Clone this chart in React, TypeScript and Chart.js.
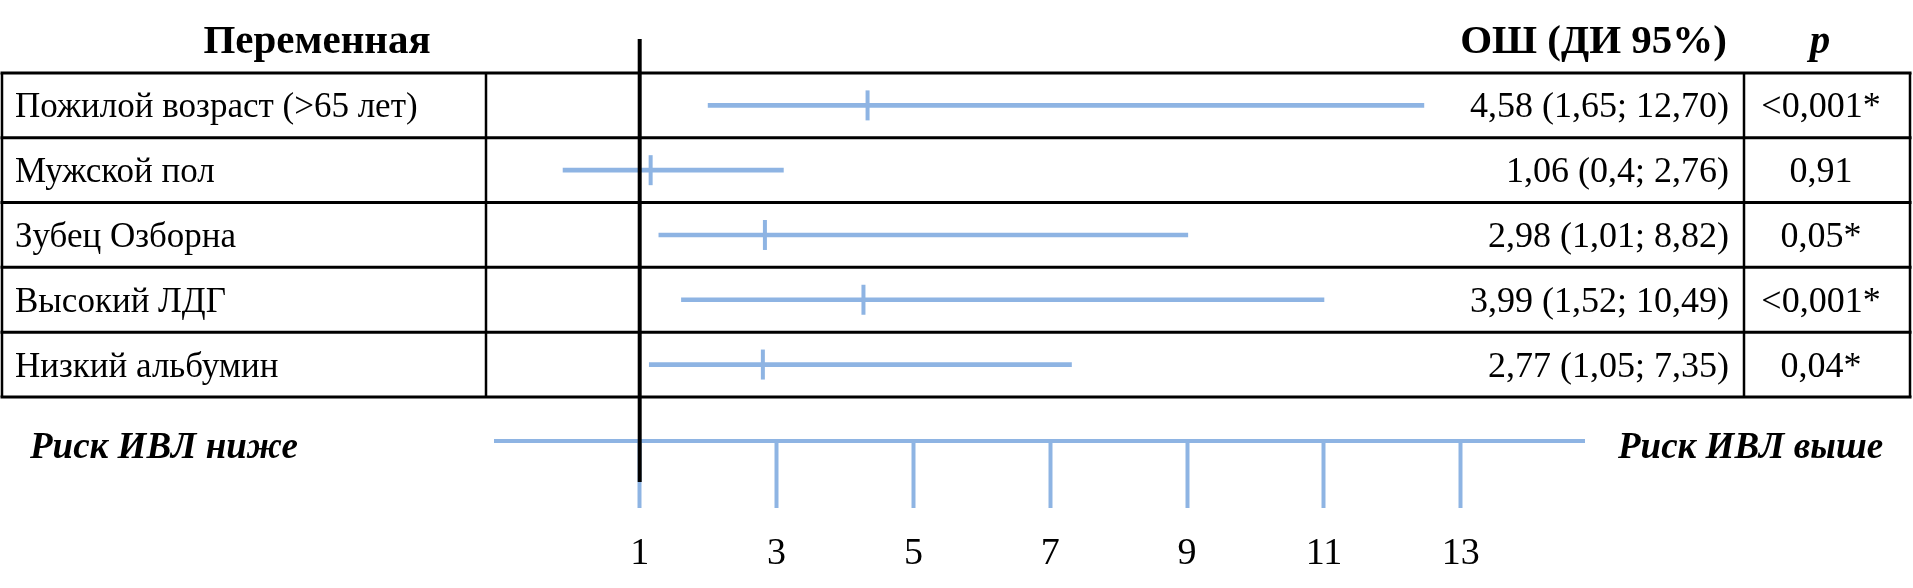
import React, { useEffect, useRef } from "react";
import { Chart, registerables } from "chart.js";

Chart.register(...registerables);

// ---------- data ----------
const variables = [
  "Пожилой возраст (>65 лет)",
  "Мужской пол",
  "Зубец Озборна",
  "Высокий ЛДГ",
  "Низкий альбумин",
];
const orCiLabels = [
  "4,58 (1,65; 12,70)",
  "1,06 (0,4; 2,76)",
  "2,98 (1,01; 8,82)",
  "3,99 (1,52; 10,49)",
  "2,77 (1,05; 7,35)",
];
const pLabels = ["<0,001*", "0,91", "0,05*", "<0,001*", "0,04*"];
// positions of the marks as drawn on the plot (in axis units)
const orPlotted = [4.33, 1.16, 2.83, 4.27, 2.8];
const ciLowPlotted = [2.0, -0.12, 1.28, 1.61, 1.14];
const ciHighPlotted = [12.46, 3.1, 9.01, 11.0, 7.31];
const tickValues = [1, 3, 5, 7, 9, 11, 13];
const refValue = 1;

// ---------- layout / style ----------
const W = 1913;
const H = 588;
const BLUE = "#8EB4E3";
const FONT = '"Liberation Serif", "Times New Roman", serif';
const X_MIN = -1.1;
const X_MAX = 14.8;
const Y_MIN = -0.5;
const Y_MAX = 5.18;
const PAD = { left: 496, right: 329, top: 73, bottom: 0 };
const AXIS_Y = 441;
const TBL = { left: 2, col1: 486, col3: 1744, right: 1910 };

const tablePlugin = {
  id: "forestTable",
  afterDraw(chart: any) {
    const ctx = chart.ctx as CanvasRenderingContext2D;
    const xs = chart.scales.x;
    const ys = chart.scales.y;
    const n = variables.length;
    ctx.save();
    // borders
    ctx.strokeStyle = "#000";
    const edges: number[] = [];
    for (let i = 0; i <= n; i++) edges.push(ys.getPixelForValue(i - 0.5));
    ctx.lineWidth = 3;
    edges.forEach((y) => {
      ctx.beginPath();
      ctx.moveTo(TBL.left - 1.5, y);
      ctx.lineTo(TBL.right + 1.5, y);
      ctx.stroke();
    });
    ctx.lineWidth = 2.5;
    [TBL.left, TBL.col1, TBL.col3, TBL.right].forEach((x) => {
      ctx.beginPath();
      ctx.moveTo(x, edges[0]);
      ctx.lineTo(x, edges[n]);
      ctx.stroke();
    });

    // headers
    ctx.fillStyle = "#000";
    ctx.textBaseline = "alphabetic";
    ctx.font = `bold 41px ${FONT}`;
    ctx.textAlign = "center";
    ctx.fillText("Переменная", 317, 53);
    ctx.textAlign = "right";
    ctx.fillText("ОШ (ДИ 95%)", 1727, 53);
    ctx.font = `italic bold 41px ${FONT}`;
    ctx.textAlign = "center";
    ctx.fillText("p", 1820, 53);

    // rows
    for (let i = 0; i < n; i++) {
      const yc = ys.getPixelForValue(i) + 12;
      ctx.font = `35px ${FONT}`;
      ctx.textAlign = "left";
      ctx.fillText(variables[i], 15, yc);
      ctx.font = `36px ${FONT}`;
      ctx.textAlign = "right";
      ctx.fillText(orCiLabels[i], 1729, yc);
      ctx.textAlign = "center";
      ctx.fillText(pLabels[i], 1821, yc);
    }

    // risk labels
    ctx.font = `italic bold 37px ${FONT}`;
    ctx.textAlign = "left";
    ctx.fillText("Риск ИВЛ ниже", 30, 458);
    ctx.fillText("Риск ИВЛ выше", 1618, 458);

    // reference line at OR = 1
    const xr = xs.getPixelForValue(refValue);
    ctx.strokeStyle = "#000";
    ctx.lineWidth = 4;
    ctx.beginPath();
    ctx.moveTo(xr, 39);
    ctx.lineTo(xr, 482);
    ctx.stroke();
    ctx.restore();
  },
};

export default function App() {
  const ref = useRef<HTMLCanvasElement>(null);
  useEffect(() => {
    const canvas = ref.current;
    if (!canvas) return;
    const idx = variables.map((_, i) => i);
    const chart = new Chart(canvas, {
      type: "bar",
      data: {
        datasets: [
          {
            type: "scatter",
            label: "ОШ",
            data: idx.map((i) => ({ x: orPlotted[i], y: i })),
            pointStyle: "line",
            pointRadius: 15,
            pointHoverRadius: 15,
            pointRotation: 90,
            pointBorderWidth: 4,
            pointBorderColor: BLUE,
            pointBackgroundColor: BLUE,
            showLine: false,
          } as any,
          {
            type: "bar",
            label: "ДИ 95%",
            data: idx.map((i) => ({ x: [ciLowPlotted[i], ciHighPlotted[i]], y: i })),
            backgroundColor: BLUE,
            borderWidth: 0,
            borderSkipped: false,
            barThickness: 4,
          } as any,
        ],
      },
      options: {
        indexAxis: "y",
        responsive: false,
        animation: false,
        devicePixelRatio: 1,
        events: [],
        layout: { padding: PAD },
        plugins: {
          legend: { display: false },
          tooltip: { enabled: false },
          title: { display: false },
        },
        scales: {
          x: {
            type: "linear",
            position: "bottom",
            min: X_MIN,
            max: X_MAX,
            offset: false,
            afterBuildTicks: (scale: any) => {
              scale.ticks = tickValues.map((v) => ({ value: v }));
            },
            afterFit: (scale: any) => {
              scale.height = H - AXIS_Y;
            },
            grid: {
              display: true,
              drawOnChartArea: false,
              drawTicks: true,
              tickLength: 67,
              tickWidth: 4,
              tickColor: BLUE,
              color: BLUE,
              offset: false,
            },
            border: { display: true, color: BLUE, width: 4 },
            ticks: {
              autoSkip: false,
              maxRotation: 0,
              color: "#000",
              padding: 27,
              font: { family: FONT, size: 38, lineHeight: 1 },
            },
          },
          y: {
            type: "linear",
            display: false,
            reverse: true,
            min: Y_MIN,
            max: Y_MAX,
            offset: false,
            grid: { offset: false },
          },
        },
      } as any,
      plugins: [tablePlugin],
    });
    return () => chart.destroy();
  }, []);
  return (
    <div
      style={{
        position: "absolute",
        left: 0,
        top: 0,
        width: W,
        height: H,
        background: "#fff",
        overflow: "hidden",
      }}
    >
      <canvas ref={ref} width={W} height={H} style={{ display: "block", width: W, height: H }} />
    </div>
  );
}
